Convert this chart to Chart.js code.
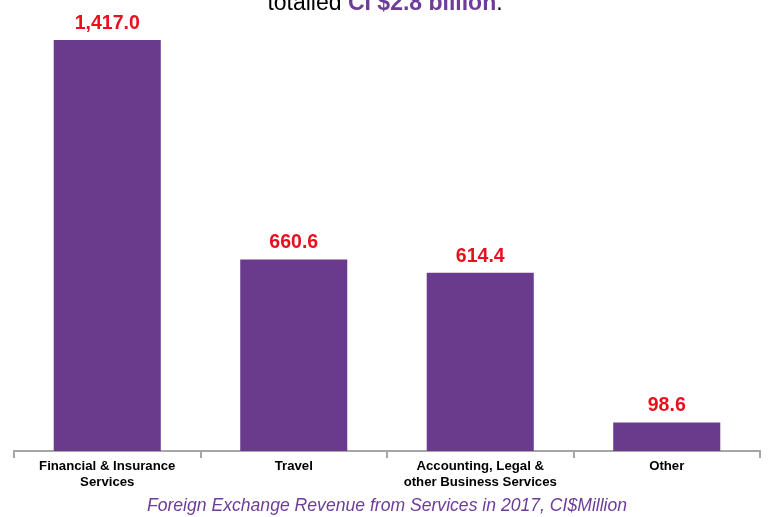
<!DOCTYPE html>
<html lang="en">
<head>
<meta charset="utf-8">
<title>Foreign Exchange Revenue from Services</title>
<script src="https://cdn.jsdelivr.net/npm/chart.js@4.4.0/dist/chart.umd.min.js"></script>
<style>
body{margin:0;background:#fff;font-family:"Liberation Sans",Arial,sans-serif;overflow:hidden}
#wrap{position:relative;width:770px;height:517px}
#head{position:absolute;left:0;width:770px;top:-9px;text-align:center;font-size:23px;line-height:23px;color:#000;white-space:nowrap}
#head b{color:#6E3D97}
canvas{display:block}
</style>
</head>
<body>
<div id="wrap">
  <canvas id="chart" width="770" height="517"></canvas>
  <div id="head">totalled <b>CI $2.8 billion</b>.</div>
</div>

<script>
/* データ */
const categories = [
  ['Financial & Insurance', 'Services'],
  'Travel',
  ['Accounting, Legal &', 'other Business Services'],
  'Other'
];
const values = [1417.0, 660.6, 614.4, 98.6];
const subtitle = 'Foreign Exchange Revenue from Services in 2017, CI$Million';

/* 棒の上に値ラベル */
const valueLabels = {
  id:'valueLabels',
  afterDatasetsDraw(chart){
    const ctx = chart.ctx;
    const meta = chart.getDatasetMeta(0);
    ctx.save();
    ctx.font = 'bold 19.5px "Liberation Sans", Arial, sans-serif';
    ctx.fillStyle = '#E8101E';
    ctx.textAlign = 'center';
    ctx.textBaseline = 'alphabetic';
    meta.data.forEach((bar,i)=>{
      const v = chart.data.datasets[0].data[i];
      ctx.fillText(v.toLocaleString('en-US',{minimumFractionDigits:1,maximumFractionDigits:1}), bar.x, bar.y - 11);
    });
    ctx.restore();
  }
};

new Chart(document.getElementById('chart').getContext('2d'),{
  type:'bar',
  data:{
    labels:categories,
    datasets:[{
      data:values,
      backgroundColor:'#6A3A8C',
      borderWidth:0,
      categoryPercentage:1,
      barPercentage:0.574
    }]
  },
  options:{
    responsive:false,
    animation:false,
    layout:{ padding:{ left:14, right:10, top:40, bottom:0 } },
    plugins:{ legend:{display:false}, tooltip:{enabled:false} },
    scales:{
      x:{
        grid:{ display:true, drawOnChartArea:false, drawTicks:true, tickLength:7, color:'#A6A6A6', lineWidth:2, offset:true },
        border:{ display:true, color:'#A6A6A6', width:2 },
        ticks:{
          color:'#000', padding:0, maxRotation:0, autoSkip:false,
          font:{ family:'"Liberation Sans", Arial, sans-serif', size:13.2, weight:'bold', lineHeight:'16px' }
        },
        title:{
          display:true, text:subtitle, color:'#6E3D97',
          font:{ family:'"Liberation Sans", Arial, sans-serif', size:17.6, style:'italic', lineHeight:1.2 },
          padding:{ top:0, bottom:0 }
        },
        afterFit(scale){ scale.height = 66; }
      },
      y:{ display:false, min:0, max:1417 }
    }
  },
  plugins:[valueLabels]
});
</script>
</body>
</html>
